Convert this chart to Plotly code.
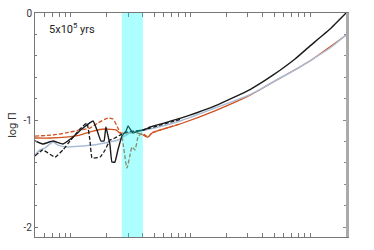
import plotly.graph_objects as go

# ---- data (x in model units on a log axis, y = log Pi) ----
blk_x = [0.5, 0.58, 0.707, 0.857, 1.04, 1.26, 1.53, 1.65, 1.78, 1.89, 1.96, 2.12, 2.20, 2.33, 2.47,
         2.67, 2.89, 3.0, 3.30, 3.64, 4.0, 4.41, 4.58, 8.17, 11.3, 16.0, 22.3, 31.5, 42.0, 56.1, 74.9,
         99.0, 147.0, 200.0]
blk_y = [-1.196, -1.224, -1.196, -1.224, -1.159, -1.075, -1.009, -1.093, -1.196, -1.196, -1.065, -1.234,
         -1.393, -1.393, -1.280, -1.150, -1.103, -1.056, -1.121, -1.103, -1.093, -1.075, -1.065, -0.985,
         -0.932, -0.868, -0.795, -0.715, -0.630, -0.535, -0.430, -0.312, -0.150, 0.0]

blkd_x = [0.5, 0.58, 0.735, 0.857, 0.981, 1.19, 1.36, 1.44, 1.50, 1.75, 1.93, 2.12, 2.33, 2.67, 2.94,
          3.43, 4.0, 4.58, 8.17]
blkd_y = [-1.336, -1.280, -1.346, -1.280, -1.196, -1.084, -1.028, -1.187, -1.355, -1.346, -1.280, -1.187,
          -1.168, -1.131, -1.112, -1.103, -1.093, -1.075, -0.995]

blue_x = [0.5, 0.55, 0.605, 0.707, 0.778, 0.908, 1.53, 2.47, 2.72, 3.12, 3.78, 4.58, 8.17, 16.0, 31.5,
          42.0, 56.1, 74.9, 99.0, 147.0, 200.0]
blue_y = [-1.327, -1.280, -1.262, -1.206, -1.234, -1.252, -1.234, -1.187, -1.159, -1.121, -1.103, -1.084,
          -1.009, -0.888, -0.762, -0.687, -0.607, -0.533, -0.449, -0.327, -0.206]

ors_x = [0.5, 0.667, 0.908, 1.19, 1.53, 1.93, 2.38, 2.57, 3.0, 3.43, 4.0, 4.41, 4.76, 8.17, 16.0, 31.5,
         56.1, 99.0, 200.0]
ors_y = [-1.168, -1.168, -1.159, -1.140, -1.103, -1.084, -1.093, -1.121, -1.121, -1.112, -1.140, -1.159,
         -1.121, -1.037, -0.914, -0.768, -0.609, -0.451, -0.208]

ord_x = [0.5, 0.707, 0.908, 1.19, 1.44, 1.68, 2.04, 2.25, 2.47, 2.67, 2.94, 3.12, 3.24, 3.43, 3.64, 3.93,
         4.16, 4.41, 4.76, 8.17]
ord_y = [-1.150, -1.140, -1.121, -1.093, -1.075, -1.028, -0.981, -0.991, -1.075, -1.159, -1.449, -1.327,
         -1.252, -1.280, -1.159, -1.121, -1.140, -1.159, -1.121, -1.037]

band = [2.66, 4.0]
y_ticks = [-2, -1, 0]
y_labels = ["-2", "-1", "0"]
label = "5x10<sup>5</sup> yrs"

SM = 0.5
fig = go.Figure()
fig.add_trace(go.Scatter(x=ors_x, y=ors_y, mode="lines",
                         line=dict(color="#d2521f", width=1.3, shape="spline", smoothing=SM)))
fig.add_trace(go.Scatter(x=ord_x, y=ord_y, mode="lines",
                         line=dict(color="#d2521f", width=1.3, dash="4px,2px", shape="spline", smoothing=SM)))
fig.add_trace(go.Scatter(x=blue_x, y=blue_y, mode="lines",
                         line=dict(color="#aabcd6", width=1.5, shape="spline", smoothing=SM)))
fig.add_trace(go.Scatter(x=blkd_x, y=blkd_y, mode="lines",
                         line=dict(color="#1a1a1a", width=1.3, dash="4px,2px", shape="spline", smoothing=0.3)))
fig.add_trace(go.Scatter(x=blk_x, y=blk_y, mode="lines",
                         line=dict(color="#1a1a1a", width=1.4, shape="spline", smoothing=0.3)))

fig.add_shape(type="rect", xref="x", yref="paper", x0=band[0], x1=band[1], y0=0, y1=1,
              fillcolor="rgba(0,255,255,0.32)", line=dict(width=0), layer="above")

fig.add_annotation(text=label, xref="paper", yref="paper", x=0.04, y=0.93, xanchor="left", yanchor="middle",
                   showarrow=False, font=dict(size=11, color="#222", family="Roboto"))

fig.update_layout(
    width=374, height=250, margin=dict(l=35, r=28, t=13, b=13, autoexpand=False),
    paper_bgcolor="white", plot_bgcolor="white", showlegend=False, hovermode=False,
    font=dict(family="Roboto", size=10, color="#333"),
    xaxis=dict(type="log", range=[-0.30103, 2.30103], showgrid=False, zeroline=False, automargin=False,
               showline=True, linecolor="#777", linewidth=1, mirror="allticks",
               ticks="inside", ticklen=4, tickcolor="#777", dtick=1, showticklabels=False,
               minor=dict(ticks="inside", ticklen=2, tickcolor="#777", dtick="D1")),
    yaxis=dict(range=[-2.093, 0.0001], showgrid=False, zeroline=False, showline=True, linecolor="#777",
               linewidth=1, ticks="inside", ticklen=3, tickcolor="#777", automargin=False,
               tickvals=y_ticks, ticktext=y_labels, tickfont=dict(size=10, color="#333"),
               minor=dict(ticks="inside", ticklen=2, tickcolor="#777", dtick=0.2),
               title=dict(text="log Π", font=dict(size=11, color="#333"), standoff=4)),
    yaxis2=dict(range=[-2.093, 0.0001], overlaying="y", side="right", showgrid=False, zeroline=False,
                showline=True, linecolor="#aaa", linewidth=2.5, ticks="inside", ticklen=3, automargin=False,
                tickcolor="#888", tickvals=y_ticks, showticklabels=False,
                minor=dict(ticks="inside", ticklen=2, tickcolor="#888", dtick=0.2)),
)
fig.add_trace(go.Scatter(x=[band[0]], y=[y_ticks[0]], yaxis="y2", mode="markers", marker=dict(opacity=0),
                         hoverinfo="skip"))
fig.write_html("out.html", config={"displayModeBar": False},
               post_script="document.body.style.margin='0px';")
